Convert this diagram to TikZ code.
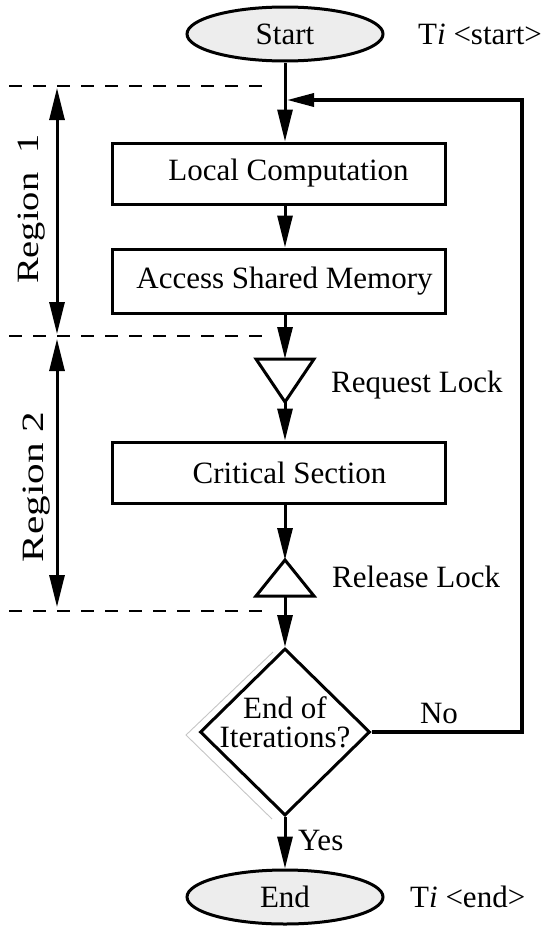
\documentclass[tikz,border=0pt]{standalone}
\usepackage{fontspec}
\setmainfont{Liberation Serif}
\usetikzlibrary{arrows.meta,shapes.geometric}
\definecolor{termfill}{RGB}{237,237,237}
\begin{document}
\begin{tikzpicture}[x=1pt,y=-1pt,
  every node/.style={font=\fontsize{31}{29}\selectfont},
  term/.style={ellipse,draw,line width=3pt,fill=termfill,minimum width=196pt,minimum height=54pt,inner sep=0pt},
  proc/.style={rectangle,draw,line width=3pt,minimum width=333pt,inner sep=0pt},
  decision/.style={diamond,draw,line width=3pt,minimum width=170pt,minimum height=167pt,inner sep=0pt},
  flow/.style={line width=3pt,-{Triangle[length=32pt,width=15pt]}},
  loopflow/.style={line width=3.5pt,-{Triangle[length=27pt,width=13pt]}},
  regionspan/.style={line width=3pt,{Triangle[length=32pt,width=15pt]}-{Triangle[length=32pt,width=15pt]}},
  sepline/.style={line width=2.5pt,dash pattern=on 13pt off 11pt},
  lock/.style={line width=3pt,line join=miter},
  tag/.style={anchor=west,inner sep=0pt}]
\useasboundingbox (0,0) rectangle (542,926);

% main column
\coordinate (col) at (285,0);
\coordinate (rt) at (522,0);

% terminals and process boxes (box text sits a little right of the box centre)
\node[term] (start) at (285,34) {Start};
\node[tag] (tstart) at (418,34) {T\textit{i} <start>};
\node[proc,minimum height=61pt] (lc) at (278.5,173.5) {\hspace*{20pt}Local Computation};
\node[proc,minimum height=64pt] (asm) at (278.5,281) {\hspace*{12pt}Access Shared Memory};
\node[proc,minimum height=61pt] (cs) at (278.5,472.5) {\hspace*{22pt}Critical Section};

% lock triangles
\coordinate (rqtop) at (285,359);
\coordinate (rqapex) at (285,402);
\draw[lock] (256,359) -- (314,359) -- (rqapex) -- cycle;
\node[tag] (rq) at (331,385) {Request Lock};

\coordinate (rlapex) at (285,560);
\coordinate (rlbase) at (285,596);
\draw[lock] (256,596) -- (314,596) -- (rlapex) -- cycle;
\node[tag] (rl) at (332,577) {Release Lock};

% decision
\draw[gray!45,line width=0.9pt] (273,652) -- (186,735) -- (272,819);
\node[decision] (dec) at (285,732) {};
\node[align=center,inner sep=0pt] (dectext) at (285,722.5) {End of\\Iterations?};

\node[term] (end) at (285,897) {End};
\node[tag] (tend) at (410,897) {T\textit{i} <end>};

% flow connectors
\draw[flow] (start.south) -- (start.south |- lc.north);
\draw[flow] (lc.south -| col) -- (asm.north -| col);
\draw[flow] (asm.south -| col) -- (rqtop);
\draw[flow] (rqapex) -- (cs.north -| col);
\draw[flow] (cs.south -| col) -- (rlapex);
\draw[flow] (rlbase) -- (dec.north);
\draw[flow] (dec.south) -- (end.north);
\node[tag] (yes) at (298,840) {Yes};

% loop back
\coordinate (entry) at (287,100);
\draw[loopflow,line join=miter] (dec.east) -- (dec.east -| rt) |- (entry);
\node (no) at (439,713) {No};

% region separators
\draw[sepline] (9,86) -- (266,86);
\draw[sepline] (9,336) -- (268,336);
\draw[sepline] (9,611) -- (262,611);

% region spans
\coordinate (r1a) at (57,88);
\coordinate (r1b) at (57,334);
\coordinate (r2a) at (57,339);
\coordinate (r2b) at (57,607);
\draw[regionspan] (r1a) -- (r1b);
\draw[regionspan] (r2a) -- (r2b);
\node[rotate=90] (reg1) at (32,209) {\scalebox{1.24}[1]{Region\ \ 1}};
\node[rotate=90] (reg2) at (37,487) {\scalebox{1.33}[1]{Region 2}};
\end{tikzpicture}
\end{document}
